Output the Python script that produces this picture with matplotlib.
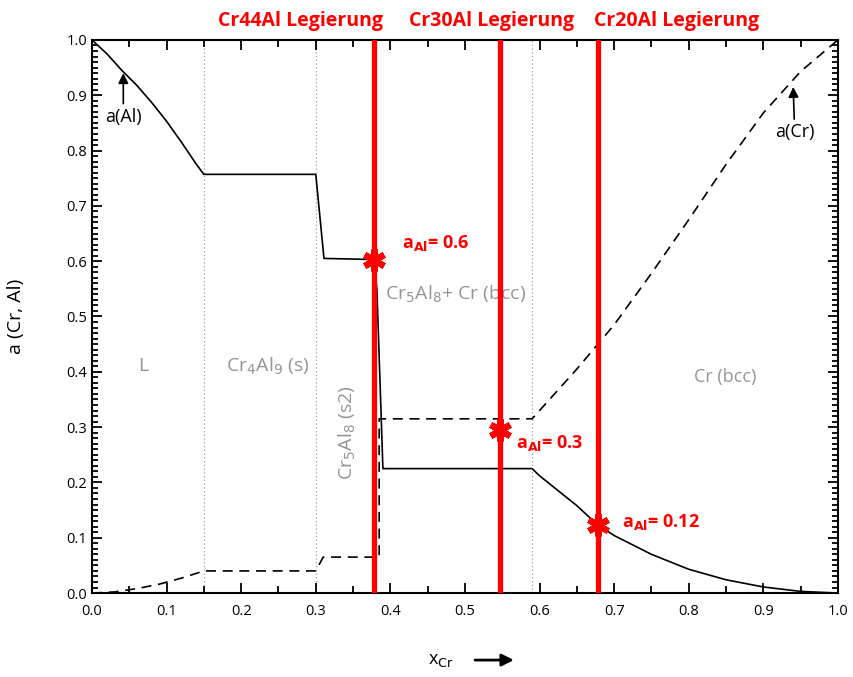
import matplotlib
matplotlib.use("Agg")
import matplotlib.pyplot as plt
from matplotlib.ticker import MultipleLocator

plt.rcParams['font.family'] = ['Open Sans', 'DejaVu Sans']

# a(Al) - solid curve
x_al = [0.0, 0.02, 0.04, 0.06, 0.08, 0.10, 0.12, 0.14, 0.15, 0.30, 0.311, 0.378,
        0.382, 0.39, 0.59, 0.60, 0.65, 0.678, 0.70, 0.75, 0.80, 0.85, 0.90, 0.95, 1.0]
a_al = [1.0, 0.975, 0.945, 0.918, 0.887, 0.853, 0.815, 0.775, 0.757, 0.757, 0.605, 0.603,
        0.548, 0.225, 0.225, 0.212, 0.158, 0.123, 0.104, 0.070, 0.043, 0.024, 0.011, 0.003, 0.0]

# a(Cr) - dashed curve
x_cr = [0.0, 0.03, 0.06, 0.09, 0.12, 0.15, 0.30, 0.31, 0.378, 0.385, 0.385, 0.59,
        0.60, 0.65, 0.70, 0.75, 0.80, 0.85, 0.90, 0.95, 1.0]
a_cr = [0.0, 0.002, 0.008, 0.016, 0.027, 0.04, 0.04, 0.065, 0.065, 0.065, 0.315, 0.315,
        0.33, 0.405, 0.485, 0.578, 0.675, 0.775, 0.868, 0.943, 1.0]

# phase boundaries
x_phase = [0.15, 0.30, 0.59]

# alloys
alloy_x = [0.378, 0.547, 0.678]
alloy_a = [0.603, 0.295, 0.123]
alloy_names = ["Cr44Al Legierung", "Cr30Al Legierung", "Cr20Al Legierung"]
alloy_vals = ["0.6", "0.3", "0.12"]

fig = plt.figure(figsize=(8.54, 6.77), dpi=100)
ax = fig.add_axes([0.1077, 0.124, 0.8735, 0.817])

for xp in x_phase:
    ax.axvline(xp, color="#a0a0a0", lw=0.9, ls=(0, (1, 2)), zorder=1)

ax.plot(x_al, a_al, color="black", lw=1.2, zorder=3)
ax.plot(x_cr, a_cr, color="black", lw=1.2, ls=(0, (6, 4)), zorder=3)

for xa in alloy_x:
    ax.axvline(xa, color="#ff0000", lw=3.8, zorder=4)
ax.plot(alloy_x, alloy_a, ls="none", marker=(6, 2, 0), ms=16, mew=4.5,
        color="#ff0000", zorder=5)

# alloy labels above axes
label_x = [0.279, 0.536, 0.783]
for lx, name in zip(label_x, alloy_names):
    ax.text(lx, 1.035, name, transform=ax.get_xaxis_transform(), ha="center",
            va="center", color="#ff0000", fontsize=14, fontweight="bold",
            clip_on=False)

# activity labels
val_pos = [(0.416, 0.632), (0.568, 0.272), (0.71, 0.128)]
for (vx, vy), v in zip(val_pos, alloy_vals):
    ax.text(vx, vy, r"a$_{\mathbf{Al}}$= " + v, color="#ff0000", fontsize=13,
            fontweight="bold", ha="left", va="center", zorder=6)

# phase region labels
gray = "#959595"
ax.text(0.068, 0.41, "L", color=gray, fontsize=14, ha="center", va="center")
ax.text(0.236, 0.41, r"Cr$_4$Al$_9$ (s)", color=gray, fontsize=14, ha="center", va="center")
ax.text(0.343, 0.29, r"Cr$_5$Al$_8$ (s2)", color=gray, fontsize=14, ha="center",
        va="center", rotation=90)
ax.text(0.487, 0.54, r"Cr$_5$Al$_8$+ Cr (bcc)", color=gray, fontsize=14, ha="center", va="center")
ax.text(0.849, 0.39, "Cr (bcc)", color=gray, fontsize=13, ha="center", va="center")

# curve annotations
ax.annotate("a(Al)", xy=(0.042, 0.94), xytext=(0.042, 0.861), ha="center", va="center",
            fontsize=13, arrowprops=dict(arrowstyle="-|>", color="black", lw=1.2,
                                         mutation_scale=15, shrinkA=1, shrinkB=0))
ax.annotate("a(Cr)", xy=(0.94, 0.915), xytext=(0.942, 0.833), ha="center", va="center",
            fontsize=13, arrowprops=dict(arrowstyle="-|>", color="black", lw=1.2,
                                         mutation_scale=15, shrinkA=1, shrinkB=0))

ax.set_xlim(0, 1)
ax.set_ylim(0, 1)
ax.xaxis.set_major_locator(MultipleLocator(0.1))
ax.xaxis.set_minor_locator(MultipleLocator(0.05))
ax.yaxis.set_major_locator(MultipleLocator(0.1))
ax.yaxis.set_minor_locator(MultipleLocator(0.01))
ax.tick_params(which="both", direction="in", top=True, right=True, width=1.3,
               labelsize=10.5)
ax.tick_params(which="major", length=7)
ax.tick_params(which="minor", length=4)
ax.tick_params(axis="x", which="minor", length=5)
ax.tick_params(axis="x", which="major", pad=8)
for s in ax.spines.values():
    s.set_linewidth(1.5)

ax.set_ylabel("a (Cr, Al)", fontsize=14, labelpad=30)

# x label with arrow
fig.text(0.516, 0.025, r"x$_{\rm Cr}$", fontsize=13, ha="center", va="center")
ax.annotate("", xy=(0.605, 0.025), xytext=(0.553, 0.025), xycoords="figure fraction",
            arrowprops=dict(arrowstyle="-|>", color="black", lw=2, mutation_scale=18))

fig.savefig("out.png", dpi=100)
